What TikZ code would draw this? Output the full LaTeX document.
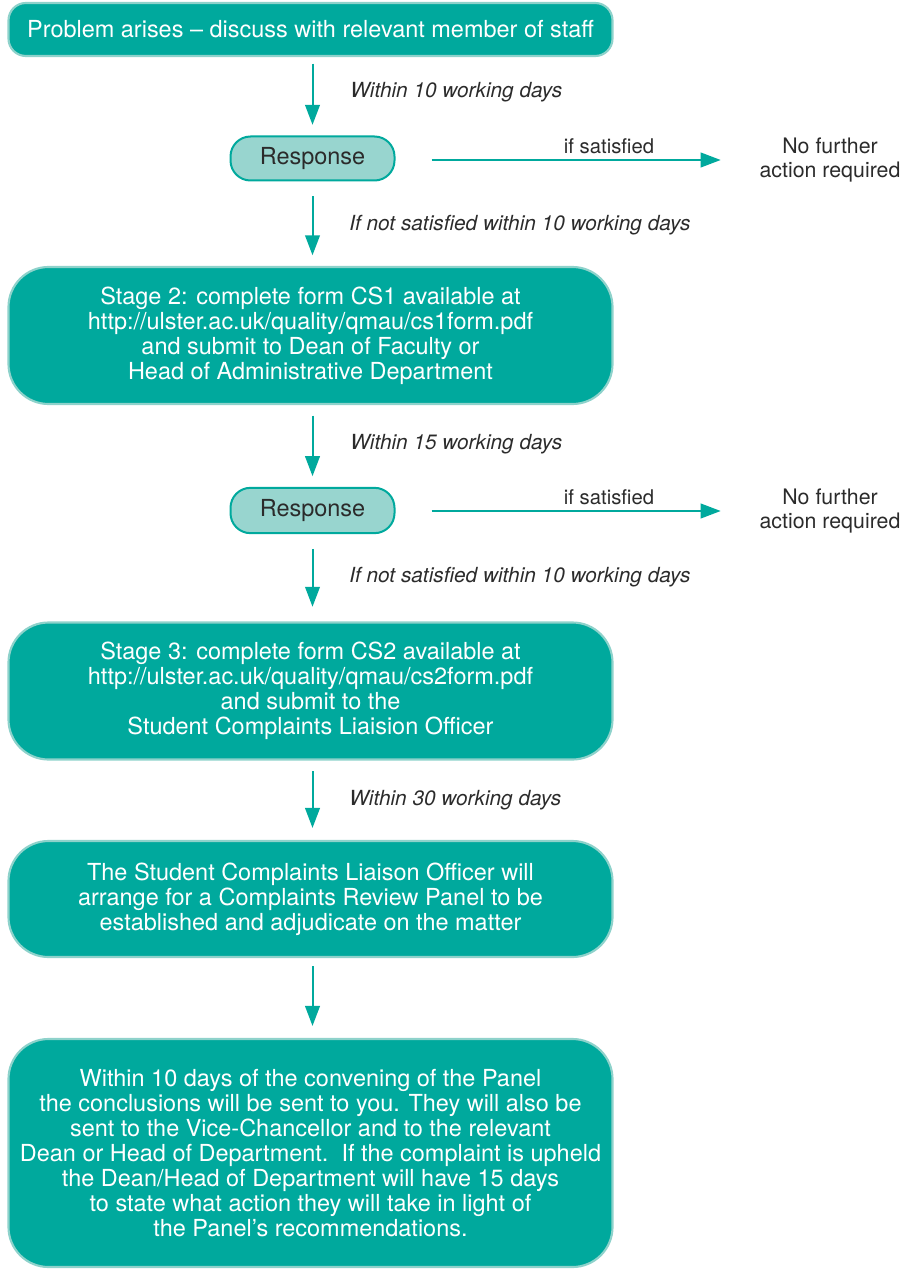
\documentclass[tikz,border=0pt]{standalone}
\usepackage{fontspec}
\setmainfont{TeX Gyre Heros}
\usetikzlibrary{arrows.meta}
\definecolor{teal1}{HTML}{00A99D}
\definecolor{tealedge}{HTML}{8ED2CB}
\definecolor{tealpale}{HTML}{98D5CF}
\definecolor{txtgray}{HTML}{2B2B2B}
\tikzset{
  bigbox/.style={draw=tealedge, line width=1.6pt, fill=teal1, text=white,
    rounded corners=#1, minimum width=453pt, align=center,
    font=\fontsize{17.6}{18.75}\selectfont, inner sep=0pt},
  respbox/.style={draw=teal1, line width=1.5pt, fill=tealpale, text=txtgray,
    rounded corners=15pt, minimum width=123pt, minimum height=33pt,
    font=\fontsize{17.6}{18.75}\selectfont, inner sep=0pt},
  arr/.style={draw=teal1, line width=1.5pt, -{Triangle[length=15pt,width=11pt]}},
  lbl/.style={text=txtgray, font=\fontsize{15.6}{18}\selectfont\itshape, anchor=west, inner sep=0pt},
  side/.style={text=txtgray, font=\fontsize{16}{18}\selectfont, align=center, inner sep=0pt},
  sat/.style={text=txtgray, font=\fontsize{15.2}{18}\selectfont, inner sep=0pt},
}
\begin{document}
\begin{tikzpicture}[x=0.75pt,y=-0.75pt]
\useasboundingbox (0,0) rectangle (911,1269);

\node[bigbox=13pt, minimum height=39.75pt] (b1) at (310.5,29.5)
  {Problem arises -- discuss with relevant member of staff};
\node[respbox] (r1) at (312.5,158.5) {Response};
\node[bigbox=30pt, minimum height=102.75pt] (b2) at (310.5,335.5)
  {Stage 2: complete form CS1 available at\\
   http://ulster.ac.uk/quality/qmau/cs1form.pdf\\
   and submit to Dean of Faculty or\\
   Head of Administrative Department};
\node[respbox, minimum height=34pt] (r2) at (312.5,510.5) {Response};
\node[bigbox=30pt, minimum height=102.75pt] (b3) at (310.5,691)
  {Stage 3: complete form CS2 available at\\
   http://ulster.ac.uk/quality/qmau/cs2form.pdf\\
   and submit to the\\
   Student Complaints Liaision Officer};
\node[bigbox=30pt, minimum height=87pt] (b4) at (310.5,899)
  {The Student Complaints Liaison Officer will\\
   arrange for a Complaints Review Panel to be\\
   established and adjudicate on the matter};
\node[bigbox=30pt, minimum height=171pt] (b5) at (310.5,1153)
  {Within 10 days of the convening of the Panel\\
   the conclusions will be sent to you. They will also be\\
   sent to the Vice-Chancellor and to the relevant\\
   Dean or Head of Department.\ \ If the complaint is upheld\\
   the Dean/Head of Department will have 15 days\\
   to state what action they will take in light of\\
   the Panel’s recommendations.};

\node[side] (n1) at (830,160) {No further\\action required};
\node[side] (n2) at (830,511) {No further\\action required};

% vertical connectors
\draw[arr, shorten <=5pt, shorten >=8pt] (b1.south -| r1) -- (r1.north);
\draw[arr, shorten <=11pt, shorten >=8pt] (r1.south) -- (b2.north -| r1);
\draw[arr, shorten <=8pt, shorten >=8pt] (b2.south -| r1) -- (r2.north);
\draw[arr, shorten <=11pt, shorten >=11pt] (r2.south) -- (b3.north -| r2);
\draw[arr, shorten <=8pt, shorten >=9pt] (b3.south -| r2) -- (b4.north -| r2);
\draw[arr, shorten <=6pt, shorten >=9pt] (b4.south -| r2) -- (b5.north -| r2);

% side connectors
\draw[arr, shorten <=27pt, shorten >=29pt] (r1.east |- n1) -- (n1.west);
\draw[arr, shorten <=27pt, shorten >=29pt] (r2.east |- n2) -- (n2.west);

% labels
\node[lbl] (l1) at (350,92) {Within 10 working days};
\node[lbl] (l2) at (349,225) {If not satisfied within 10 working days};
\node[lbl] (l3) at (350,444) {Within 15 working days};
\node[lbl] (l4) at (349,577) {If not satisfied within 10 working days};
\node[lbl] (l5) at (349,800) {Within 30 working days};
\node[sat] (s1) at (609,146) {if satisfied};
\node[sat] (s2) at (609,497) {if satisfied};
\end{tikzpicture}
\end{document}
